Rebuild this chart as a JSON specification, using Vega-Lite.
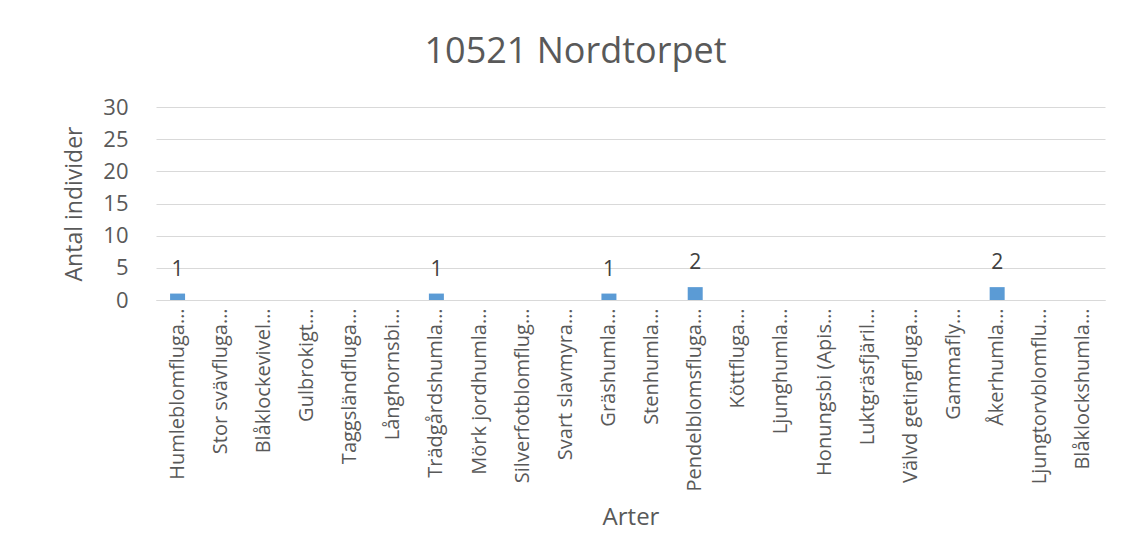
{
  "$schema": "https://vega.github.io/schema/vega-lite/v6.json",
  "width": 949,
  "height": 193,
  "autosize": "none",
  "padding": {"left": 156, "top": 107, "right": 23, "bottom": 255},
  "background": "white",
  "title": {"text": "10521 Nordtorpet", "font": "Open Sans", "fontSize": 36, "fontWeight": "normal", "color": "#595959", "offset": 25, "anchor": "middle", "dx": -55},
  "data": {"values": [
    {"art": "Humleblomfluga…", "antal": 1},
    {"art": "Stor svävfluga…", "antal": 0},
    {"art": "Blåklockevivel…", "antal": 0},
    {"art": "Gulbrokigt…", "antal": 0},
    {"art": "Taggsländfluga…", "antal": 0},
    {"art": "Långhornsbi…", "antal": 0},
    {"art": "Trädgårdshumla…", "antal": 1},
    {"art": "Mörk jordhumla…", "antal": 0},
    {"art": "Silverfotblomflug…", "antal": 0},
    {"art": "Svart slavmyra…", "antal": 0},
    {"art": "Gräshumla…", "antal": 1},
    {"art": "Stenhumla…", "antal": 0},
    {"art": "Pendelblomsfluga…", "antal": 2},
    {"art": "Köttfluga…", "antal": 0},
    {"art": "Ljunghumla…", "antal": 0},
    {"art": "Honungsbi (Apis…", "antal": 0},
    {"art": "Luktgräsfjäril…", "antal": 0},
    {"art": "Välvd getingfluga…", "antal": 0},
    {"art": "Gammafly…", "antal": 0},
    {"art": "Åkerhumla…", "antal": 2},
    {"art": "Ljungtorvblomflu…", "antal": 0},
    {"art": "Blåklockshumla…", "antal": 0}
  ]},
  "encoding": {
    "x": {"field": "art", "type": "nominal", "sort": null,
      "scale": {"paddingInner": 0, "paddingOuter": 0},
      "axis": {"title": "Arter", "titleFont": "Open Sans", "titleFontSize": 24, "titleFontWeight": "normal", "titleColor": "#595959", "titlePadding": 15,
        "labelFont": "Open Sans", "labelFontSize": 20, "labelColor": "#595959", "labelAngle": -90, "labelAlign": "right", "labelBaseline": "middle", "labelPadding": 8,
        "ticks": false, "domainColor": "#d9d9d9", "labelOverlap": false, "labelLimit": 300}},
    "y": {"field": "antal", "type": "quantitative",
      "scale": {"domain": [0, 30]},
      "axis": {"title": "Antal individer", "titleFont": "Open Sans", "titleFontSize": 23, "titleFontWeight": "normal", "titleColor": "#595959", "titlePadding": 16,
        "labelFont": "Open Sans", "labelFontSize": 22, "labelColor": "#595959", "labelPadding": 28, "values": [0, 5, 10, 15, 20, 25, 30],
        "ticks": false, "domain": false, "gridColor": "#d9d9d9"}}
  },
  "layer": [
    {"mark": {"type": "bar", "color": "#5B9BD5", "size": 15}},
    {"transform": [{"filter": "datum.antal > 0"}],
     "mark": {"type": "text", "font": "Open Sans", "fontSize": 21, "color": "#404040", "baseline": "alphabetic", "dy": -18},
     "encoding": {"text": {"field": "antal", "type": "quantitative"}}}
  ],
  "config": {"view": {"stroke": null}}
}
